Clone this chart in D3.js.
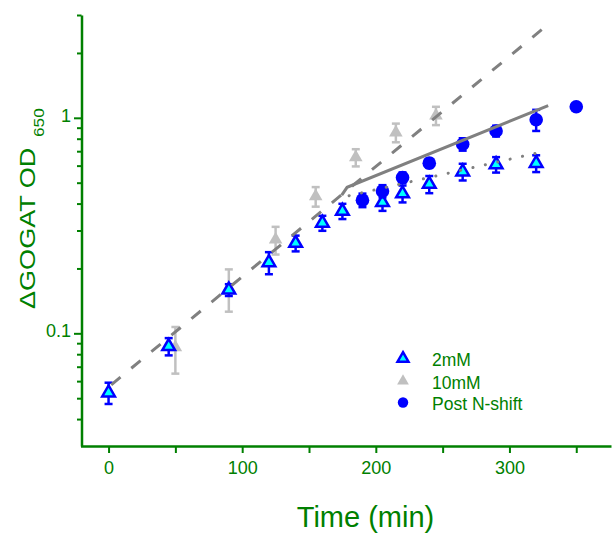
<!DOCTYPE html>
<html>
<head>
<meta charset="utf-8">
<script src="https://cdn.jsdelivr.net/npm/d3@7"></script>
<style>
  body { margin: 0; background: #fff; }
  svg { display: block; }
</style>
</head>
<body>
<svg id="chart" width="613" height="533"></svg>
<script>
// ---- Data: GOGAT activity (ΔOD650) over time ----
const times2mM = [0, 45, 90, 120, 140, 160, 175, 205, 220, 240, 265, 290, 320];
const od2mM    = [0.053, 0.087, 0.159, 0.213, 0.262, 0.325, 0.369, 0.405, 0.445, 0.492, 0.562, 0.607, 0.615];
const err2mM   = [0.006, 0.008, 0.010, 0.025, 0.022, 0.026, 0.030, 0.035, 0.040, 0.045, 0.050, 0.050, 0.055];

const times10mM = [50, 90, 125, 155, 185, 215, 245];
const od10mM    = [0.086, 0.162, 0.272, 0.432, 0.655, 0.855, 1.025];
const err10mM   = [0.021, 0.036, 0.040, 0.045, 0.060, 0.085, 0.100];

const timesShift = [190, 205, 220, 240, 265, 290, 320, 350];
const odShift    = [0.415, 0.457, 0.528, 0.616, 0.754, 0.869, 0.979, 1.125];
const errShift   = [0.030, 0.030, 0.030, 0.030, 0.050, 0.050, 0.110, 0.030];

// Exponential fits (straight lines on the log axis)
const fitEarlyTimes = [2, 325];
const fitEarlyOD    = [0.0577, 2.59];
const fitShiftTimes = [174.5, 178.5, 329];
const fitShiftOD    = [0.438, 0.476, 1.14];
const fit2mMTimes   = [180, 323];
const fit2mMOD      = [0.435, 0.692];

const xMajorTicks = [0, 100, 200, 300];
const xMinorTicks = [50, 150, 250, 350];
const yMajorTicks = [0.1, 1];
const yTickLabels = ['0.1', '1'];
const yMinorTicks = [0.04, 0.05, 0.06, 0.07, 0.08, 0.09,
                     0.2, 0.3, 0.4, 0.5, 0.6, 0.7, 0.8, 0.9, 2, 3];

const legendItems = ['2mM', '10mM', 'Post N-shift'];

// ---- Setup ----
const green = '#008000';
const font = "'Liberation Sans', Arial, Helvetica, sans-serif";
const svg = d3.select('#chart');
svg.append('rect').attr('width', 613).attr('height', 533).attr('fill', '#fff');

const x = d3.scaleLinear().domain([-21, 376]).range([80.5, 611]);
const y = d3.scaleLog().domain([0.03, 3]).range([446, 15]);

const zip = (ts, vs, es) => ts.map((t, i) => ({ t, v: vs[i], e: es ? es[i] : 0 }));

// ---- Axes ----
function styleAxis(g) {
  g.select('.domain').attr('stroke', green).attr('stroke-width', 2.5);
  g.selectAll('.tick line').attr('stroke', green).attr('stroke-width', 2);
  g.selectAll('.tick text').attr('fill', green)
    .attr('font-family', font).attr('font-size', 18);
}

const xAxis = svg.append('g').attr('transform', 'translate(0,446)')
  .call(d3.axisBottom(x).tickValues(xMajorTicks).tickFormat(d3.format('d'))
        .tickSize(7).tickSizeOuter(0));
styleAxis(xAxis);
xAxis.selectAll('.tick text').attr('y', 28).attr('dy', 0);

const xMinor = svg.append('g').attr('transform', 'translate(0,446)')
  .call(d3.axisBottom(x).tickValues(xMinorTicks).tickFormat('').tickSize(7).tickSizeOuter(0));
xMinor.select('.domain').remove();
styleAxis(xMinor);

const yAxis = svg.append('g').attr('transform', 'translate(81.5,0)')
  .call(d3.axisLeft(y).tickValues(yMajorTicks)
        .tickFormat((d, i) => yTickLabels[i]).tickSize(7.5).tickSizeOuter(0));
styleAxis(yAxis);
yAxis.selectAll('.tick text').attr('x', -10.5).attr('dy', 0).attr('y', 3.5);

const yMinor = svg.append('g').attr('transform', 'translate(81.5,0)')
  .call(d3.axisLeft(y).tickValues(yMinorTicks).tickFormat('').tickSize(4.5).tickSizeOuter(0));
yMinor.select('.domain').remove();
styleAxis(yMinor);

// Axis titles
svg.append('text')
  .attr('x', 365.5).attr('y', 527)
  .attr('text-anchor', 'middle')
  .attr('font-family', font).attr('font-size', 29).attr('fill', green)
  .text('Time (min)');

// Rotated y title, with the wavelength as a lowered subscript
svg.append('text')
  .attr('transform', 'translate(35,309) rotate(-90) scale(1.23,1)')
  .attr('font-family', font).attr('font-size', 22).attr('fill', green)
  .text('ΔGOGAT OD');
svg.append('text')
  .attr('transform', 'translate(44,137) rotate(-90) scale(1.23,1)')
  .attr('font-family', font).attr('font-size', 14).attr('fill', green)
  .text('650');

// ---- Marks ----
const plot = svg.append('g');
const triBlue = d3.symbol().type(d3.symbolTriangle).size(70);
const triGray = d3.symbol().type(d3.symbolTriangle).size(80);

function errorBars(data, color) {
  const g = plot.append('g').attr('stroke', color).attr('stroke-width', 2.5).attr('fill', 'none');
  data.forEach(d => {
    const y0 = y(d.v - d.e), y1 = y(d.v + d.e), cx = x(d.t);
    g.append('line').attr('x1', cx).attr('x2', cx).attr('y1', y0).attr('y2', y1);
    g.append('line').attr('x1', cx - 4).attr('x2', cx + 4).attr('y1', y0).attr('y2', y0);
    g.append('line').attr('x1', cx - 4).attr('x2', cx + 4).attr('y1', y1).attr('y2', y1);
  });
}

// 10 mM (grey triangles)
const d10 = zip(times10mM, od10mM, err10mM);
errorBars(d10, '#c0c0c0');
plot.append('g').selectAll('path').data(d10).join('path')
  .attr('d', triGray)
  .attr('transform', d => `translate(${x(d.t)},${y(d.v)})`)
  .attr('fill', '#c0c0c0');

// 2 mM (blue-outlined cyan triangles)
const d2 = zip(times2mM, od2mM, err2mM);
errorBars(d2, '#0000ff');
plot.append('g').selectAll('path').data(d2).join('path')
  .attr('d', triBlue)
  .attr('transform', d => `translate(${x(d.t)},${y(d.v)})`)
  .attr('fill', '#00ffff').attr('stroke', '#0000ff').attr('stroke-width', 2.5)
  .attr('stroke-linejoin', 'miter');

// Post N-shift (blue circles)
const dS = zip(timesShift, odShift, errShift);
errorBars(dS, '#0000ff');
plot.append('g').selectAll('circle').data(dS).join('circle')
  .attr('cx', d => x(d.t)).attr('cy', d => y(d.v)).attr('r', 6.8)
  .attr('fill', '#0000ff');

// Fit lines
const line = d3.line().x(d => x(d.t)).y(d => y(d.v));
plot.append('path').datum(zip(fitEarlyTimes, fitEarlyOD))
  .attr('d', line).attr('fill', 'none')
  .attr('stroke', '#808080').attr('stroke-width', 3).attr('stroke-dasharray', '12,14');
plot.append('path').datum(zip(fitShiftTimes, fitShiftOD))
  .attr('d', line).attr('fill', 'none')
  .attr('stroke', '#808080').attr('stroke-width', 3);
plot.append('path').datum(zip(fit2mMTimes, fit2mMOD))
  .attr('d', line).attr('fill', 'none')
  .attr('stroke', '#808080').attr('stroke-width', 3)
  .attr('stroke-linecap', 'round').attr('stroke-dasharray', '0.1,12.6');

// ---- Legend ----
const legend = svg.append('g').attr('font-family', font).attr('font-size', 17.5).attr('fill', green);
const legY = [358.5, 381, 402.5];
legend.append('path').attr('d', d3.symbol().type(d3.symbolTriangle).size(52)())
  .attr('transform', `translate(403,${legY[0]})`)
  .attr('fill', '#00ffff').attr('stroke', '#0000ff').attr('stroke-width', 2.5);
legend.append('path').attr('d', d3.symbol().type(d3.symbolTriangle).size(60)())
  .attr('transform', `translate(403,${legY[1]})`)
  .attr('fill', '#c0c0c0');
legend.append('circle').attr('cx', 403).attr('cy', legY[2]).attr('r', 5.2).attr('fill', '#0000ff');
legend.selectAll('text').data(legendItems).join('text')
  .attr('x', 432).attr('y', (d, i) => legY[i] + 7.5)
  .text(d => d);
</script>
</body>
</html>
